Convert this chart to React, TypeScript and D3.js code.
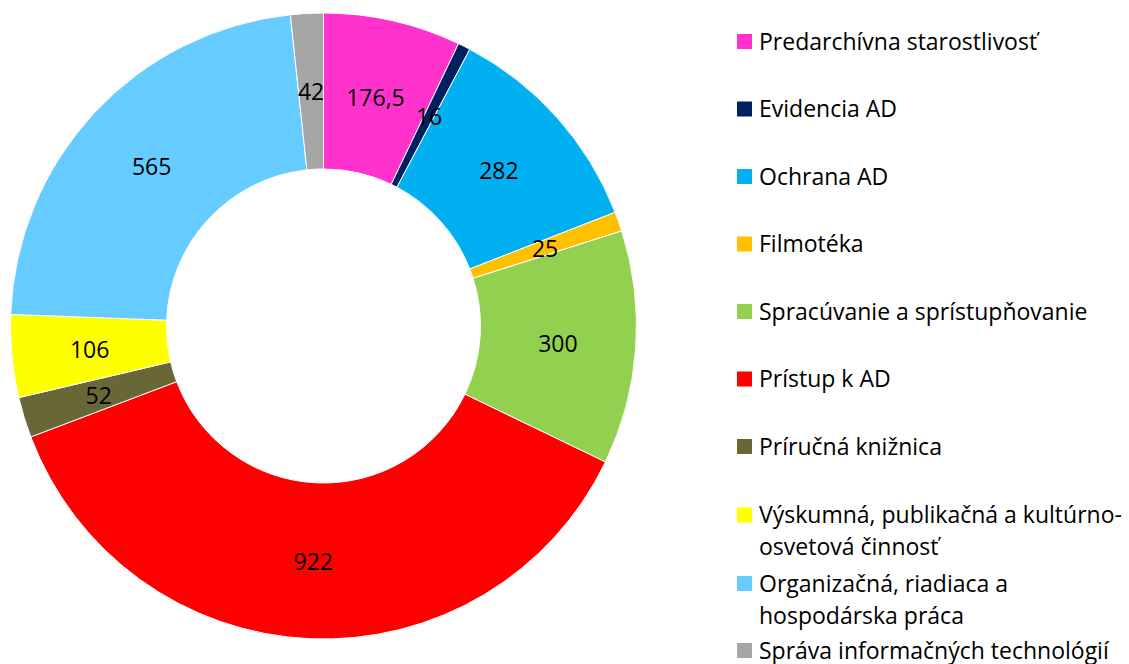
import React from "react";
import * as d3 from "d3";

const categories = [
  "Predarchívna starostlivosť",
  "Evidencia AD",
  "Ochrana AD",
  "Filmotéka",
  "Spracúvanie a sprístupňovanie",
  "Prístup k AD",
  "Príručná knižnica",
  "Výskumná, publikačná a kultúrno-osvetová činnosť",
  "Organizačná, riadiaca a hospodárska práca",
  "Správa informačných technológií",
];
const values = [176.5, 16, 282, 25, 300, 922, 52, 106, 565, 42];
const valueLabels = ["176,5", "16", "282", "25", "300", "922", "52", "106", "565", "42"];
const legendLines = [
  ["Predarchívna starostlivosť"],
  ["Evidencia AD"],
  ["Ochrana AD"],
  ["Filmotéka"],
  ["Spracúvanie a sprístupňovanie"],
  ["Prístup k AD"],
  ["Príručná knižnica"],
  ["Výskumná, publikačná a kultúrno-", "osvetová činnosť"],
  ["Organizačná, riadiaca a", "hospodárska práca"],
  ["Správa informačných technológií"],
];
const colors = [
  "#FF33CC",
  "#002060",
  "#00B0F0",
  "#FFC000",
  "#92D050",
  "#FF0000",
  "#686836",
  "#FFFF00",
  "#66CCFF",
  "#A6A6A6",
];

const W = 1129;
const H = 664;
const cx = 323.5;
const cy = 326;
const rOuter = 313;
const rInner = 157;
const FONT = "'Open Sans', 'Noto Sans', sans-serif";

export default function App() {
  const pie = d3
    .pie<number>()
    .sort(null)
    .value((d) => d);
  const arcs = pie(values);
  const arc = d3.arc<d3.PieArcDatum<number>>().innerRadius(rInner).outerRadius(rOuter);
  const labelArc = d3.arc<d3.PieArcDatum<number>>().innerRadius(235).outerRadius(235);

  const legendY = [41.5, 109, 176.5, 244, 311.5, 379, 446.5, 515, 583.5, 650.5];

  return (
    <svg
      width={W}
      height={H}
      style={{ position: "absolute", left: 0, top: 0, background: "#fff" }}
      fontFamily={FONT}
    >
      <g transform={`translate(${cx},${cy})`}>
        {arcs.map((a, i) => (
          <path key={i} d={arc(a) || ""} fill={colors[i]} stroke="#fff" strokeWidth={1} />
        ))}
        {arcs.map((a, i) => {
          const [x, y] = labelArc.centroid(a);
          return (
            <text
              key={"l" + i}
              x={x}
              y={y}
              textAnchor="middle"
              dominantBaseline="central"
              fontSize={23}
              fill="#000"
            >
              {valueLabels[i]}
            </text>
          );
        })}
      </g>
      <g>
        {categories.map((c, i) => (
          <g key={c}>
            <rect x={737} y={legendY[i] - 7.5} width={15} height={15} fill={colors[i]} />
            {legendLines[i].map((ln, j) => (
              <text key={j} x={759} y={legendY[i] + 8 + j * 32} fontSize={23} fill="#000">
                {ln}
              </text>
            ))}
          </g>
        ))}
      </g>
    </svg>
  );
}
